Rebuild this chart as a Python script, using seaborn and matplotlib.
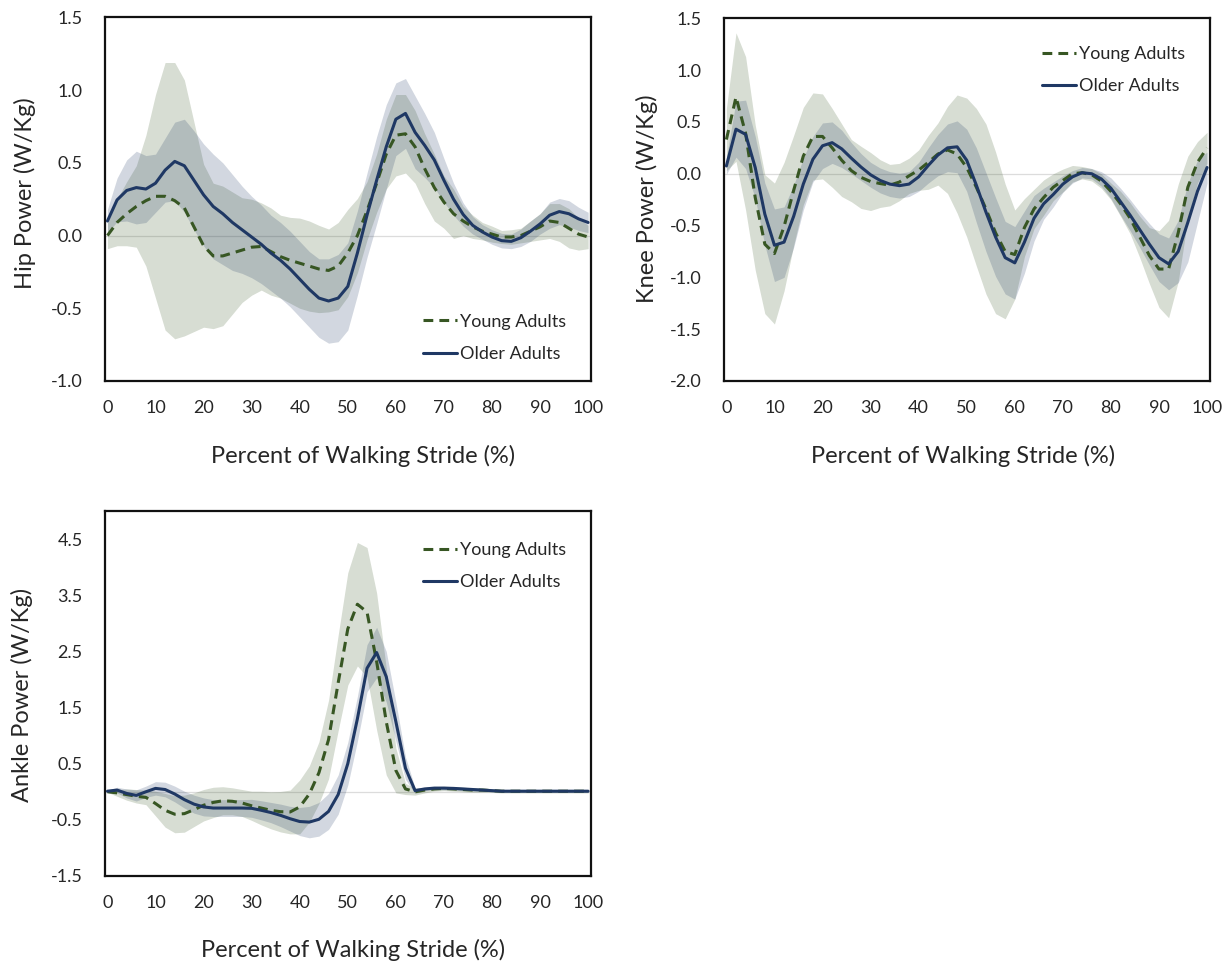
import numpy as np
import pandas as pd
import matplotlib
matplotlib.use("Agg")
import matplotlib.pyplot as plt
from matplotlib.ticker import FormatStrFormatter
import seaborn as sns

# ---- data: mean joint power and SD across the stride (every 2 %) ----
pct = list(range(0, 101, 2))
groups = ["Young Adults", "Older Adults"]

hip_young_mean = [0.00, 0.09, 0.15, 0.20, 0.24, 0.27, 0.27, 0.24, 0.19, 0.06,
                  -0.07, -0.14, -0.14, -0.12, -0.10, -0.08, -0.075, -0.11, -0.145, -0.17,
                  -0.19, -0.21, -0.23, -0.24, -0.21, -0.12, 0.00, 0.17, 0.36, 0.56,
                  0.69, 0.70, 0.61, 0.46, 0.33, 0.23, 0.15, 0.10, 0.06, 0.03,
                  0.01, -0.01, -0.01, 0.00, 0.03, 0.06, 0.10, 0.09, 0.05, 0.01, -0.01]
hip_young_sd = [0.09, 0.16, 0.22, 0.28, 0.45, 0.70, 0.92, 0.95, 0.88, 0.72,
                0.56, 0.50, 0.48, 0.42, 0.36, 0.33, 0.30, 0.30, 0.285, 0.295,
                0.31, 0.31, 0.30, 0.285, 0.30, 0.30, 0.255, 0.20, 0.20, 0.24,
                0.28, 0.27, 0.25, 0.24, 0.23, 0.18, 0.17, 0.10, 0.08, 0.06,
                0.055, 0.045, 0.05, 0.05, 0.07, 0.09, 0.12, 0.13, 0.135, 0.11, 0.08]
hip_older_mean = [0.10, 0.245, 0.31, 0.33, 0.32, 0.36, 0.45, 0.51, 0.48, 0.38,
                  0.28, 0.20, 0.15, 0.09, 0.04, -0.01, -0.06, -0.12, -0.17, -0.23,
                  -0.30, -0.37, -0.43, -0.45, -0.43, -0.35, -0.12, 0.14, 0.38, 0.61,
                  0.80, 0.84, 0.71, 0.62, 0.52, 0.38, 0.25, 0.145, 0.07, 0.025,
                  -0.01, -0.035, -0.04, -0.015, 0.03, 0.08, 0.14, 0.165, 0.15, 0.115, 0.09]
hip_older_sd = [0.08, 0.15, 0.21, 0.25, 0.23, 0.20, 0.22, 0.27, 0.32, 0.34,
                0.35, 0.36, 0.35, 0.33, 0.30, 0.28, 0.27, 0.26, 0.26, 0.26,
                0.26, 0.26, 0.27, 0.29, 0.30, 0.30, 0.29, 0.29, 0.30, 0.29,
                0.25, 0.24, 0.25, 0.22, 0.19, 0.15, 0.11, 0.08, 0.06, 0.05,
                0.05, 0.05, 0.05, 0.06, 0.07, 0.07, 0.09, 0.09, 0.09, 0.08, 0.07]

knee_young_mean = [0.33, 0.74, 0.39, -0.23, -0.68, -0.77, -0.51, -0.16, 0.17, 0.36,
                   0.36, 0.25, 0.13, 0.03, -0.035, -0.075, -0.095, -0.11, -0.08, -0.02,
                   0.035, 0.11, 0.19, 0.23, 0.19, 0.06, -0.13, -0.34, -0.57, -0.75,
                   -0.78, -0.52, -0.34, -0.23, -0.13, -0.065, 0.00, 0.01, -0.01, -0.07,
                   -0.17, -0.29, -0.43, -0.61, -0.79, -0.92, -0.92, -0.57, -0.13, 0.11, 0.25]
knee_young_sd = [0.30, 0.62, 0.74, 0.70, 0.67, 0.68, 0.62, 0.53, 0.47, 0.42,
                 0.41, 0.38, 0.35, 0.30, 0.30, 0.28, 0.23, 0.20, 0.18, 0.17,
                 0.195, 0.26, 0.30, 0.42, 0.57, 0.67, 0.76, 0.82, 0.78, 0.65,
                 0.43, 0.28, 0.19, 0.17, 0.13, 0.11, 0.08, 0.06, 0.06, 0.07,
                 0.08, 0.12, 0.15, 0.20, 0.27, 0.37, 0.47, 0.47, 0.30, 0.20, 0.15]
knee_older_mean = [0.075, 0.43, 0.38, 0.06, -0.39, -0.69, -0.66, -0.41, -0.10, 0.14,
                   0.27, 0.30, 0.24, 0.15, 0.065, -0.01, -0.065, -0.10, -0.115, -0.10,
                   -0.03, 0.08, 0.18, 0.25, 0.26, 0.13, -0.11, -0.37, -0.61, -0.81,
                   -0.86, -0.66, -0.43, -0.29, -0.20, -0.10, -0.03, 0.01, 0.00, -0.05,
                   -0.14, -0.27, -0.40, -0.54, -0.68, -0.81, -0.87, -0.75, -0.47, -0.17, 0.06]
knee_older_sd = [0.08, 0.27, 0.33, 0.30, 0.30, 0.35, 0.34, 0.30, 0.25, 0.22,
                 0.22, 0.20, 0.18, 0.15, 0.13, 0.12, 0.12, 0.12, 0.12, 0.12,
                 0.14, 0.17, 0.20, 0.23, 0.25, 0.30, 0.36, 0.38, 0.38, 0.35,
                 0.35, 0.30, 0.22, 0.15, 0.12, 0.08, 0.06, 0.05, 0.05, 0.07,
                 0.10, 0.13, 0.15, 0.17, 0.20, 0.23, 0.25, 0.30, 0.38, 0.30, 0.15]

ankle_young_mean = [0.00, -0.02, -0.05, -0.08, -0.10, -0.21, -0.33, -0.40, -0.39, -0.32,
                    -0.24, -0.19, -0.16, -0.17, -0.20, -0.25, -0.29, -0.33, -0.355, -0.36,
                    -0.27, -0.04, 0.34, 0.93, 1.94, 2.90, 3.34, 3.20, 2.32, 1.25,
                    0.38, 0.05, 0.00, 0.03, 0.05, 0.06, 0.05, 0.04, 0.03, 0.03,
                    0.02, 0.01, 0.01, 0.01, 0.01, 0.01, 0.01, 0.01, 0.01, 0.01, 0.01]
ankle_young_sd = [0.01, 0.06, 0.10, 0.12, 0.13, 0.22, 0.30, 0.33, 0.33, 0.30,
                  0.28, 0.27, 0.25, 0.24, 0.24, 0.26, 0.30, 0.33, 0.36, 0.39,
                  0.48, 0.50, 0.55, 0.70, 0.85, 1.00, 1.10, 1.15, 1.22, 0.95,
                  0.40, 0.10, 0.06, 0.05, 0.04, 0.04, 0.04, 0.04, 0.04, 0.04,
                  0.03, 0.03, 0.03, 0.03, 0.03, 0.03, 0.03, 0.03, 0.03, 0.03, 0.03]
ankle_older_mean = [0.01, 0.03, -0.03, -0.065, 0.00, 0.06, 0.04, -0.04, -0.14, -0.22,
                    -0.27, -0.29, -0.29, -0.29, -0.29, -0.295, -0.33, -0.37, -0.42, -0.48,
                    -0.53, -0.54, -0.49, -0.35, -0.05, 0.50, 1.30, 2.20, 2.48, 2.05,
                    1.25, 0.42, 0.02, 0.05, 0.065, 0.065, 0.06, 0.05, 0.04, 0.03,
                    0.02, 0.01, 0.01, 0.01, 0.01, 0.01, 0.01, 0.01, 0.01, 0.01, 0.01]
ankle_older_sd = [0.02, 0.05, 0.08, 0.10, 0.10, 0.12, 0.13, 0.14, 0.15, 0.16,
                  0.16, 0.15, 0.15, 0.15, 0.15, 0.16, 0.17, 0.18, 0.20, 0.22,
                  0.25, 0.28, 0.30, 0.32, 0.35, 0.38, 0.40, 0.42, 0.45, 0.45,
                  0.35, 0.20, 0.05, 0.03, 0.03, 0.03, 0.03, 0.03, 0.03, 0.02,
                  0.02, 0.02, 0.02, 0.02, 0.02, 0.02, 0.02, 0.02, 0.02, 0.02, 0.02]

xticks = list(range(0, 101, 10))
xlabel = "Percent of Walking Stride (%)"

# ---- style ----
sns.set_theme(style="white")
plt.rcParams["font.family"] = ["Lato", "DejaVu Sans"]
plt.rcParams["axes.unicode_minus"] = False
TEXT = "#262626"

palette = {"Young Adults": "#375623", "Older Adults": "#1f3864"}
dash_map = {"Young Adults": (3.2, 2.0), "Older Adults": ""}

fig = plt.figure(figsize=(12.3, 9.64), dpi=100)


def draw_panel(rect, series, ylim, yticks, ylabel, xlabel_pos, ylabel_pos, legend_anchor):
    ax = fig.add_axes(rect)
    frames = []
    for g, (m, s) in zip(groups, series):
        frames.append(pd.DataFrame({"pct": pct, "power": m, "sd": s, "group": g}))
    df = pd.concat(frames, ignore_index=True)

    # zero reference line under the SD bands
    ax.axhline(0, color="#dcdcdc", lw=0.9, zorder=0.5)
    for g, sub in df.groupby("group", sort=False):
        ax.fill_between(sub["pct"], sub["power"] - sub["sd"], sub["power"] + sub["sd"],
                        color=palette[g], alpha=0.2, lw=0, zorder=1)

    sns.lineplot(data=df, x="pct", y="power", hue="group", style="group",
                 hue_order=groups, style_order=groups, palette=palette,
                 dashes=dash_map, lw=2.2, ax=ax, zorder=3)

    ax.set_xlim(-0.5, 100.6)
    ax.set_ylim(*ylim)
    ax.set_xticks(xticks)
    ax.set_yticks(yticks)
    ax.yaxis.set_major_formatter(FormatStrFormatter("%.1f"))
    ax.tick_params(length=0, labelsize=13, colors=TEXT)
    ax.tick_params(axis="x", pad=14)
    ax.tick_params(axis="y", pad=16)
    for sp in ax.spines.values():
        sp.set_visible(True)
        sp.set_color("#111111")
        sp.set_linewidth(1.6)

    ax.set_xlabel(xlabel, fontsize=17, color=TEXT)
    ax.set_ylabel(ylabel, fontsize=17, color=TEXT)
    ax.xaxis.set_label_coords(*xlabel_pos)
    ax.yaxis.set_label_coords(*ylabel_pos)

    handles, labels = ax.get_legend_handles_labels()
    ax.legend(handles, labels, loc="upper left", bbox_to_anchor=legend_anchor,
              frameon=False, fontsize=13, handlelength=1.9, handletextpad=0.15,
              labelspacing=0.9, borderpad=0, borderaxespad=0, labelcolor=TEXT)
    return ax


draw_panel([0.0854, 0.6048, 0.3951, 0.3771],
           [(hip_young_mean, hip_young_sd), (hip_older_mean, hip_older_sd)],
           (-1.0, 1.5), np.arange(-1.0, 1.51, 0.5), "Hip Power (W/Kg)",
           (0.531, -0.176), (-0.142, 0.517), (0.654, 0.185))

draw_panel([0.5886, 0.6048, 0.3951, 0.3762],
           [(knee_young_mean, knee_young_sd), (knee_older_mean, knee_older_sd)],
           (-2.0, 1.5), np.arange(-2.0, 1.51, 0.5), "Knee Power (W/Kg)",
           (0.492, -0.176), (-0.135, 0.504), (0.654, 0.924))

draw_panel([0.0854, 0.0913, 0.3951, 0.3786],
           [(ankle_young_mean, ankle_young_sd), (ankle_older_mean, ankle_older_sd)],
           (-1.5, 5.0), np.arange(-1.5, 4.51, 1.0), "Ankle Power (W/Kg)",
           (0.51, -0.173), (-0.148, 0.496), (0.654, 0.915))

fig.savefig("out.png", dpi=100, facecolor="white")
